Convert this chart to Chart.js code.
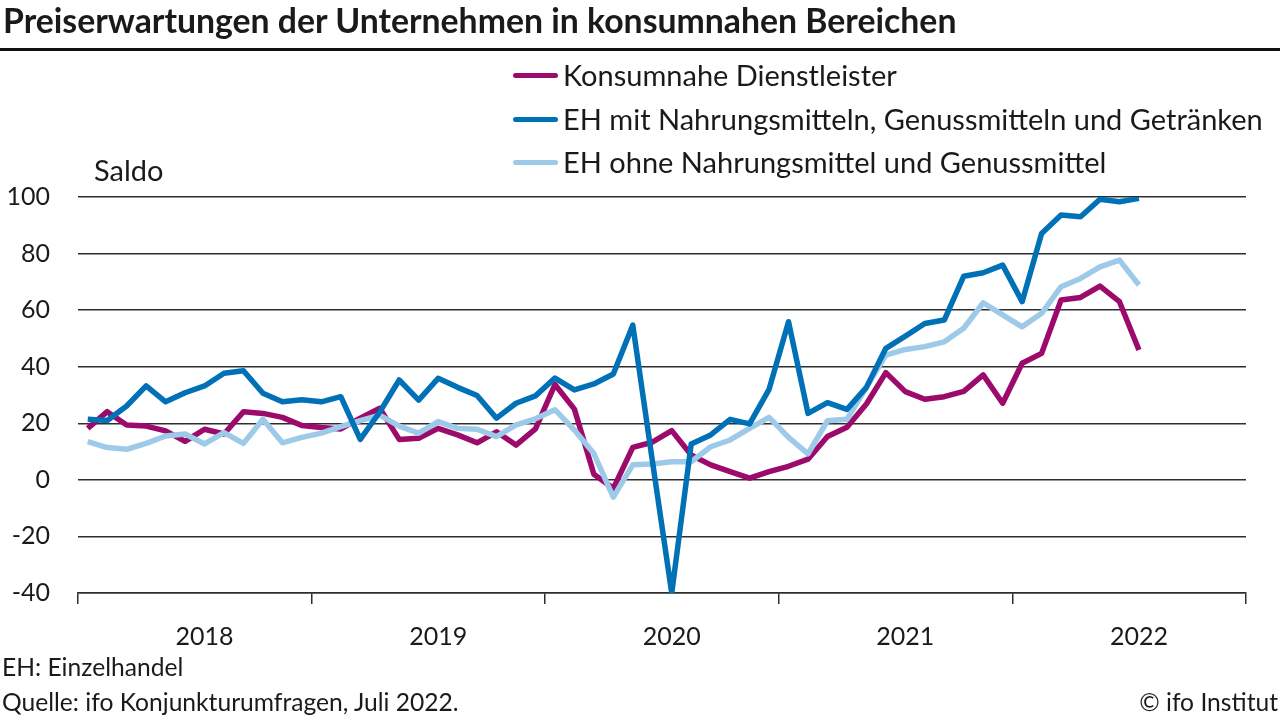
<!DOCTYPE html>
<html><head><meta charset="utf-8">
<script src="https://cdn.jsdelivr.net/npm/chart.js@4.4.0/dist/chart.umd.min.js"></script>
<style>
html,body{margin:0;padding:0;background:#fff;}
#wrap{position:relative;width:1280px;height:720px;overflow:hidden;font-family:Lato,sans-serif;color:#1a1a1a;}
#c{position:absolute;left:0;top:0;}
.t{position:absolute;white-space:nowrap;line-height:1;}
.sw{position:absolute;height:5px;border-radius:3px;}
</style></head><body>
<div id="wrap">
<canvas id="c" width="1280" height="720"></canvas>
<div class="t" id="title" style="font-weight:bold">Preiserwartungen der Unternehmen in konsumnahen Bereichen</div>
<div style="position:absolute;left:0;top:48px;width:1280px;height:3px;background:#111"></div>
<div id="legend"></div>
<div class="t" id="saldo">Saldo</div>
<div class="t" id="note">EH: Einzelhandel</div>
<div class="t" id="src">Quelle: ifo Konjunkturumfragen, Juli 2022.</div>
<div class="t" id="copy">© ifo Institut</div>
</div>
<script>
// ---- data ----
const years = ['2018', '2019', '2020', '2021', '2022'];
const monthNames = ['Jan','Feb','Mär','Apr','Mai','Jun','Jul','Aug','Sep','Okt','Nov','Dez'];
const yTicks = [-40, -20, 0, 20, 40, 60, 80, 100];

const seriesNames = [
  'Konsumnahe Dienstleister',
  'EH mit Nahrungsmitteln, Genussmitteln und Getränken',
  'EH ohne Nahrungsmittel und Genussmittel'
];
const seriesColors = ['#9C0A6B', '#0071B6', '#9DCAE9'];

const dienstleister = [
  18.2, 24.1, 19.4, 19.0, 17.3, 13.6, 17.9, 16.2, 24.1, 23.5, 22.1, 19.2,
  18.5, 18.0, 21.8, 25.3, 14.3, 14.7, 18.2, 15.9, 13.1, 17.0, 12.3, 18.0,
  33.7, 25.0, 2.0, -3.0, 11.5, 13.3, 17.4, 8.8, 5.3, 2.9, 0.6, 2.9,
  4.8, 7.3, 15.3, 18.6, 26.8, 37.9, 31.2, 28.5, 29.4, 31.3, 37.1, 27.1,
  41.2, 44.7, 63.6, 64.5, 68.5, 63.0, 45.9
];
const ehMit = [
  21.4, 21.0, 26.1, 33.2, 27.6, 30.8, 33.2, 37.7, 38.6, 30.6, 27.6, 28.3,
  27.6, 29.4, 14.3, 24.0, 35.3, 28.2, 35.9, 32.7, 29.8, 21.8, 27.1, 29.7,
  36.0, 31.8, 33.9, 37.4, 54.7, 7.0, -40.0, 12.7, 15.9, 21.4, 19.8, 32.0,
  55.9, 23.5, 27.3, 24.9, 32.7, 46.5, 50.8, 55.3, 56.5, 72.0, 73.2, 75.9,
  63.0, 87.1, 93.6, 93.0, 99.2, 98.3, 99.5
];
const ehOhne = [
  13.5, 11.4, 10.8, 12.9, 15.5, 16.2, 12.7, 16.7, 12.9, 21.4, 13.1, 15.0,
  16.5, 18.8, 20.9, 22.9, 19.0, 16.5, 20.6, 18.2, 17.9, 15.3, 19.4, 21.6,
  24.8, 17.6, 9.3, -6.1, 5.3, 5.6, 6.4, 6.4, 11.7, 14.1, 18.2, 22.1,
  15.0, 9.2, 20.9, 21.4, 32.7, 44.1, 46.1, 47.1, 48.8, 53.6, 62.6, 58.3,
  54.1, 58.9, 68.3, 71.2, 75.3, 77.7, 68.9
];

// month categories Jan 2018 .. Dez 2022
const categories = [];
years.forEach(y => monthNames.forEach(m => categories.push(m + ' ' + y)));

// ---- text layout helpers ----
function fitSize(el, width) {
  el.style.fontSize = '100px';
  const w = el.getBoundingClientRect().width;
  return 100 * width / w;
}
function put(el, left, capCenter, fs) {
  el.style.fontSize = fs + 'px';
  el.style.left = left + 'px';
  el.style.top = (capCenter - 0.53 * fs) + 'px';
}

const title = document.getElementById('title');
put(title, 3, 22, fitSize(title, 954));

const legend = document.getElementById('legend');
const legendRows = [75, 119, 162];
const legendEls = seriesNames.map((name, i) => {
  const sw = document.createElement('div');
  sw.className = 'sw';
  sw.style.background = seriesColors[i];
  sw.style.left = '513px';
  sw.style.width = '45px';
  sw.style.top = (legendRows[i] - 2.5) + 'px';
  legend.appendChild(sw);
  const t = document.createElement('div');
  t.className = 't';
  t.textContent = name;
  legend.appendChild(t);
  return t;
});
const legFs = fitSize(legendEls[1], 700);
legendEls.forEach((t, i) => put(t, 563, legendRows[i], legFs));

const saldo = document.getElementById('saldo');
put(saldo, 94, 170, legFs);

const src = document.getElementById('src');
const footFs = fitSize(src, 457);
put(src, 2, 703, footFs);
put(document.getElementById('note'), 2, 668, footFs);
const copy = document.getElementById('copy');
put(copy, 0, 703, footFs);
copy.style.left = (1278 - copy.getBoundingClientRect().width) + 'px';

// ---- chart ----
const tickFont = { family: 'Lato', size: 25 };
const mk = (label, data, color, order) => ({
  label, data, borderColor: color, backgroundColor: color,
  borderWidth: 5.5, pointRadius: 0, tension: 0, fill: false,
  borderJoinStyle: 'round', borderCapStyle: 'butt', order
});

new Chart(document.getElementById('c'), {
  type: 'line',
  data: {
    labels: categories,
    datasets: [
      mk(seriesNames[0], dienstleister, seriesColors[0], 2),
      mk(seriesNames[1], ehMit, seriesColors[1], 0),
      mk(seriesNames[2], ehOhne, seriesColors[2], 1)
    ]
  },
  options: {
    responsive: false,
    animation: false,
    events: [],
    layout: { padding: { top: 197, right: 34, left: 0, bottom: 0 } },
    plugins: { legend: { display: false }, tooltip: { enabled: false }, title: { display: false } },
    scales: {
      x: {
        type: 'category',
        offset: true,
        grid: {
          offset: true,
          drawOnChartArea: false,
          drawTicks: true,
          tickLength: 11,
          lineWidth: 1.5,
          color: ctx => (ctx.index === undefined || ctx.index % 12 === 0) ? '#2e2e2e' : 'rgba(0,0,0,0)'
        },
        border: { display: true, color: '#2e2e2e', width: 1.5 },
        ticks: {
          autoSkip: false, maxRotation: 0, minRotation: 0, padding: 18,
          font: tickFont, color: '#1a1a1a',
          callback: (v, i) => (i % 12 === 6 ? years[Math.floor(i / 12)] : '')
        },
        afterFit: s => { s.height = 127; }
      },
      y: {
        min: yTicks[0], max: yTicks[yTicks.length - 1],
        afterBuildTicks: s => { s.ticks = yTicks.map(v => ({ value: v })); },
        grid: { drawTicks: false, color: '#2e2e2e', lineWidth: 1.5 },
        border: { display: false },
        ticks: { padding: 28, font: tickFont, color: '#1a1a1a', callback: v => String(v) },
        afterFit: s => { s.width = 78; }
      }
    }
  }
});
</script>
</body></html>
